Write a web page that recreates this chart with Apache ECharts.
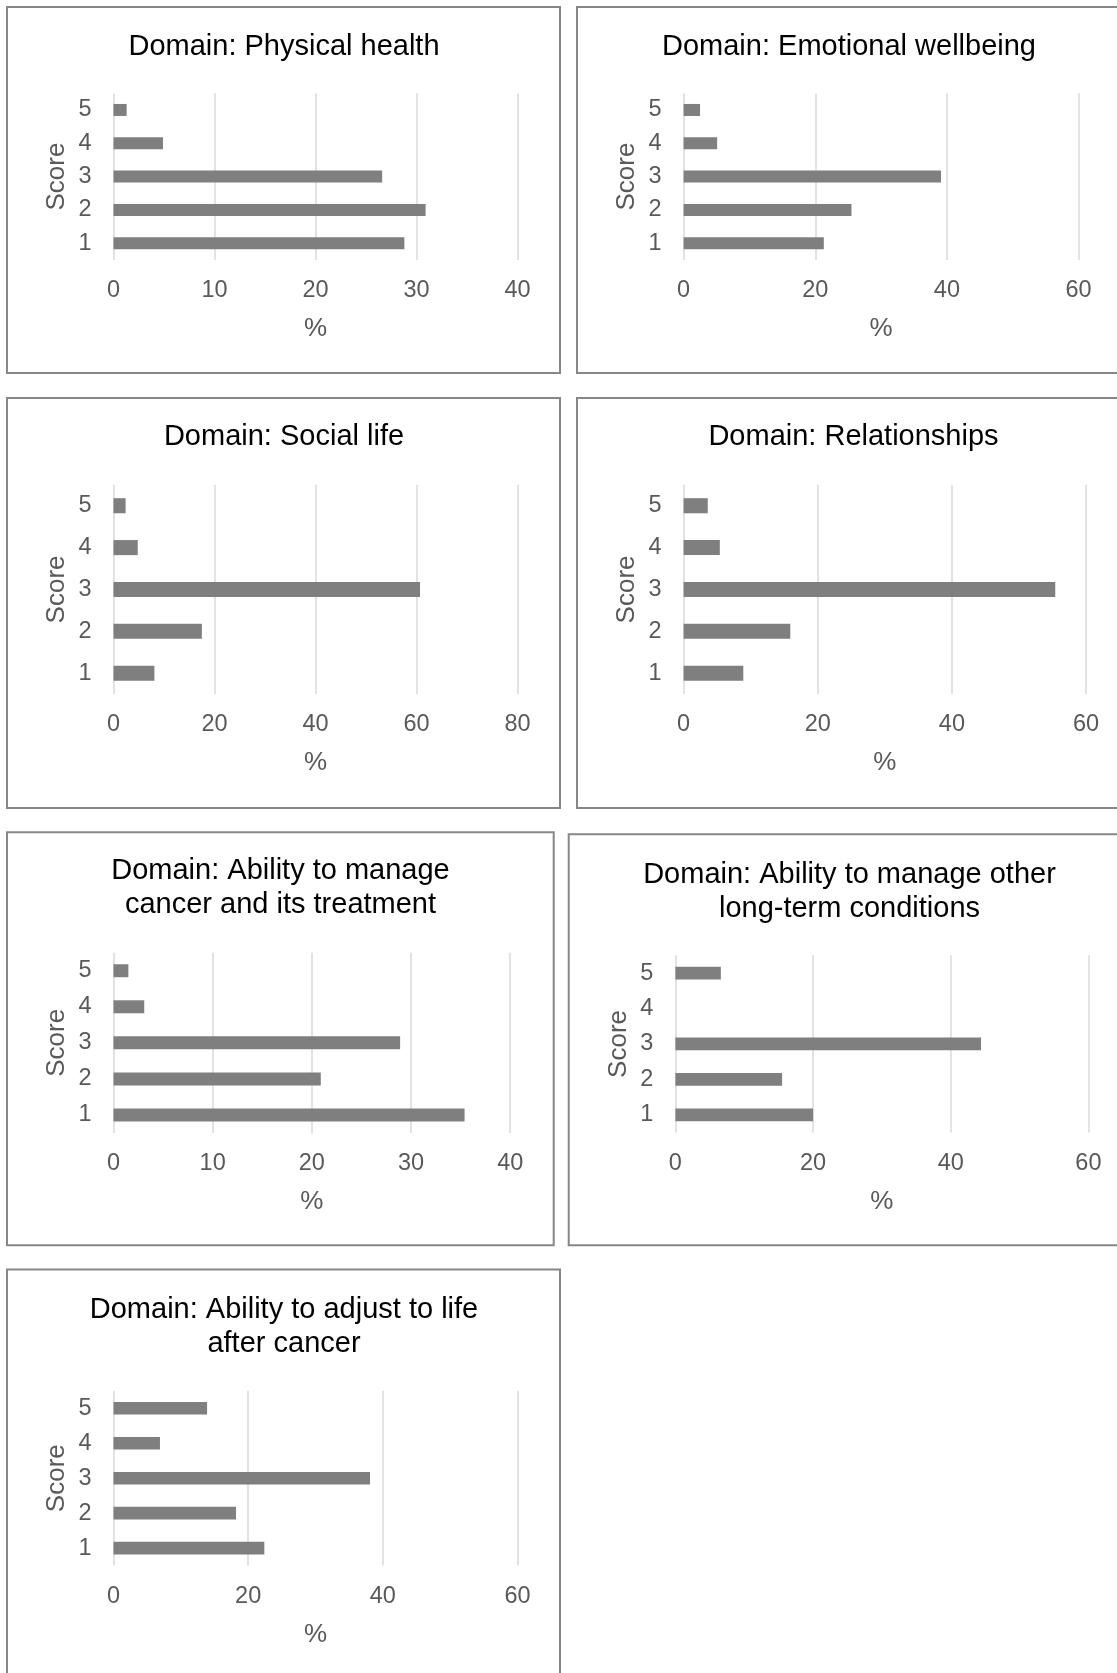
<!DOCTYPE html>
<html>
<head>
<meta charset="utf-8">
<script src="https://cdn.jsdelivr.net/npm/echarts@6/dist/echarts.min.js"></script>
<style>
html,body{margin:0;padding:0;background:#fff;}
#c{width:1117px;height:1673px;}
</style>
</head>
<body>
<div id="c"></div>
<script>
// ---- data ----
const scores = ['1', '2', '3', '4', '5'];
const physicalHealth = [28.8, 30.9, 26.6, 4.9, 1.3];
const emotionalWellbeing = [21.3, 25.5, 39.1, 5.1, 2.5];
const socialLife = [8.1, 17.5, 60.7, 4.8, 2.4];
const relationships = [8.9, 15.9, 55.4, 5.4, 3.6];
const manageCancer = [35.4, 20.9, 28.9, 3.1, 1.5];
const manageOther = [20.0, 15.5, 44.4, 0, 6.6];
const adjustLife = [22.4, 18.2, 38.1, 6.9, 13.9];

const titles = [
  'Domain: Physical health',
  'Domain: Emotional wellbeing',
  'Domain: Social life',
  'Domain: Relationships',
  'Domain: Ability to manage\ncancer and its treatment',
  'Domain: Ability to manage other\nlong-term conditions',
  'Domain: Ability to adjust to life\nafter cancer'
];
const seriesData = [physicalHealth, emotionalWellbeing, socialLife, relationships, manageCancer, manageOther, adjustLife];
const axisMax = [40, 60, 80, 60, 40, 60, 60];
const axisInterval = [10, 20, 20, 20, 10, 20, 20];

// ---- layout (pixels) ----
const layout = [
  {box:[7, 7, 553, 366], grid:{left:113.5, top:93.3, width:404, height:166.6}, tx:284, ty:29.6},
  {box:[577, 7, 600, 366], grid:{left:683.6, top:93.3, width:395, height:166.6}, tx:849, ty:29.6},
  {box:[7, 398, 553, 410], grid:{left:113.5, top:484.8, width:404, height:209.3}, tx:284, ty:420.1},
  {box:[577, 398, 600, 410], grid:{left:683.6, top:484.8, width:402.5, height:209.3}, tx:853.5, ty:420.1},
  {box:[7, 832.2, 546.7, 413], grid:{left:113.5, top:952.7, width:396.7, height:180.3}, tx:280.5, ty:854.3},
  {box:[568.7, 834.3, 600, 411], grid:{left:675.4, top:955.3, width:413, height:177.3}, tx:849.5, ty:857.5},
  {box:[7, 1269.6, 553, 450], grid:{left:113.5, top:1390.8, width:404, height:174.8}, tx:284, ty:1292.8}
];

const FONT = 'Liberation Sans, Arial, sans-serif';
const TICK = '#595959';

const option = {
  animation: false,
  backgroundColor: '#ffffff',
  title: [], grid: [], xAxis: [], yAxis: [], series: [],
  graphic: []
};

layout.forEach((L, i) => {
  option.graphic.push({
    type: 'rect', silent: true, z: -1,
    shape: {x: L.box[0], y: L.box[1], width: L.box[2], height: L.box[3]},
    style: {fill: '#ffffff', stroke: '#878787', lineWidth: 2}
  });
  option.title.push({
    text: titles[i], left: L.tx, top: L.ty, textAlign: 'center', padding: 0,
    textStyle: {fontFamily: FONT, fontSize: 29, fontWeight: 'normal', color: '#000000', lineHeight: 34}
  });
  option.grid.push(Object.assign({containLabel: false}, L.grid));
  option.xAxis.push({
    type: 'value', gridIndex: i, min: 0, max: axisMax[i], interval: axisInterval[i],
    name: '%', nameLocation: 'middle', nameGap: 56,
    nameTextStyle: {fontFamily: FONT, fontSize: 26, color: TICK},
    axisLine: {show: false}, axisTick: {show: false},
    axisLabel: {fontFamily: FONT, fontSize: 23.5, color: TICK, margin: 18.5},
    splitLine: {show: true, lineStyle: {color: '#d9d9d9', width: 1.5}}
  });
  option.yAxis.push({
    type: 'category', gridIndex: i, data: scores,
    name: 'Score', nameLocation: 'middle', nameGap: 44, nameRotate: 90,
    nameTextStyle: {fontFamily: FONT, fontSize: 26, color: TICK},
    axisLine: {show: false}, axisTick: {show: false},
    axisLabel: {fontFamily: FONT, fontSize: 23.5, color: TICK, margin: 22},
    splitLine: {show: false}
  });
  option.series.push({
    type: 'bar', xAxisIndex: i, yAxisIndex: i, data: seriesData[i],
    barWidth: '36%', itemStyle: {color: '#7f7f7f'}, silent: true
  });
});

const chart = echarts.init(document.getElementById('c'), null, {renderer: 'canvas'});
chart.setOption(option);
</script>
</body>
</html>
